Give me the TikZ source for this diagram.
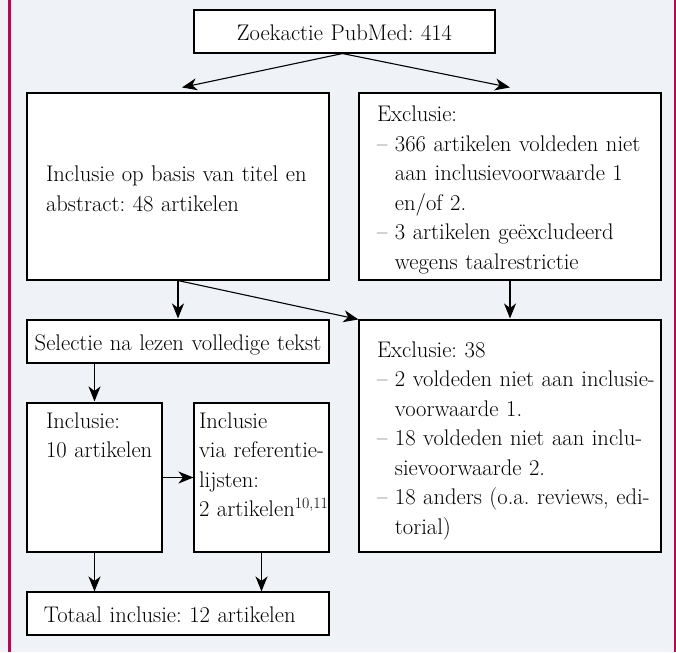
\documentclass[tikz,border=0pt]{standalone}
\usetikzlibrary{arrows.meta}
\definecolor{bgc}{HTML}{EFF3F7}
\definecolor{barc}{HTML}{A8104F}
\newcommand\hg{\phantom{– }}
\newcommand\bxt[2]{\hspace*{#1}\begin{tabular}[t]{@{}l@{}}#2\end{tabular}}
\frenchspacing
\begin{document}
\begin{tikzpicture}[x=1pt,y=-1pt,
  box/.style={draw=black, line width=1.1pt, fill=white, inner xsep=0pt, inner ysep=0pt, align=left,
    font=\fontsize{22.6}{29.5}\selectfont\frenchspacing},
  arr/.style={-{Stealth[length=15pt,width=12pt,inset=4.5pt]}, line width=1.1pt}]
\fill[bgc] (0,0) rectangle (676,652);
\useasboundingbox (0,0) rectangle (676,652);
\fill[barc] (8,0) rectangle (11,652);
\fill[barc] (674,0) rectangle (676,652);

\node[box, text width=301pt, align=center, text height=31pt, text depth=12pt]
  (A) at (344.5,31.5) {Zoekactie PubMed: 414};
\node[box, text width=302pt, text height=89pt, text depth=98pt]
  (B) at (178,186.5) {\bxt{19pt}{Inclusie op basis van titel en\\abstract: 48 artikelen}};
\node[box, text width=302pt, text height=29pt, text depth=158pt]
  (C) at (510,186.5) {\bxt{18pt}{Exclusie:\\– 366 artikelen voldeden niet\\\hg aan inclusievoorwaarde 1\\\hg en/of 2.\\– 3 artikelen geëxcludeerd\\\hg wegens taalrestrictie}};
\node[box, text width=302pt, align=center, text height=30.7pt, text depth=12.3pt]
  (D) at (178,341.5) {Selectie na lezen volledige tekst};
\node[box, text width=302pt, text height=37pt, text depth=195pt]
  (E) at (510,436) {\bxt{18pt}{Exclusie: 38\\– 2 voldeden niet aan inclusie-\\\hg voorwaarde 1.\\– 18 voldeden niet aan inclu-\\\hg sievoorwaarde 2.\\– 18 anders (o.a. reviews, edi-\\\hg torial)}};
\node[box, text width=135pt, text height=25pt, text depth=124pt]
  (F) at (94.5,477.5) {\bxt{19pt}{Inclusie:\\10 artikelen}};
\node[box, text width=135pt, text height=25pt, text depth=124pt]
  (G) at (261.5,477.5) {\bxt{5pt}{Inclusie\\via referentie-\\lijsten:\\2 artikelen\textsuperscript{10,11}}};
\node[box, text width=302pt, text height=30pt, text depth=13pt]
  (H) at (178,613.5) {\bxt{17pt}{Totaal inclusie: 12 artikelen}};

\draw[arr] ([xshift=-2pt]A.south) -- ([xshift=4pt,yshift=5pt]B.north);
\draw[arr] ([xshift=-2pt]A.south) -- ([yshift=5pt]C.north);
\draw[arr] (B.south) -- ([yshift=1pt]D.north);
\draw[arr] (B.south) -- (E.north west);
\draw[arr] (C.south) -- ([yshift=1pt]E.north);
\draw[arr] (F.north |- D.south) -- ([yshift=1pt]F.north);
\draw[arr] (F.east) -- (G.west);
\draw[arr] (F.south) -- (F.south |- H.north);
\draw[arr] (G.south) -- (G.south |- H.north);
\end{tikzpicture}
\end{document}
